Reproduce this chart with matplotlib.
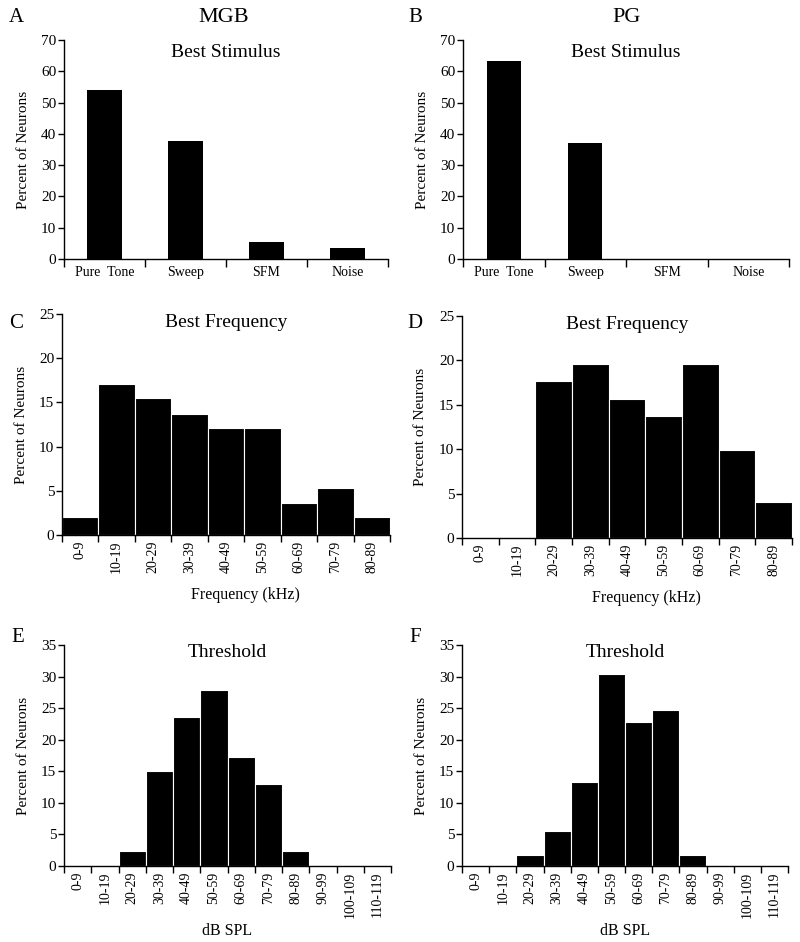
import numpy as np
import matplotlib.pyplot as plt

plt.rcParams['font.family'] = ['Liberation Serif', 'DejaVu Serif']

# data (percent of neurons)
stimuli = ['Pure  Tone', 'Sweep', 'SFM', 'Noise']
mgb_stim = [53.9, 37.6, 5.4, 3.6]
pg_stim = [63.3, 37.0, 0, 0]

freq_bins = ['0-9', '10-19', '20-29', '30-39', '40-49', '50-59', '60-69', '70-79', '80-89']
mgb_freq = [2.0, 17.1, 15.5, 13.7, 12.1, 12.1, 3.6, 5.3, 2.0]
pg_freq = [0, 0, 17.7, 19.6, 15.7, 13.7, 19.6, 9.9, 4.0]

spl_bins = ['0-9', '10-19', '20-29', '30-39', '40-49', '50-59', '60-69', '70-79',
            '80-89', '90-99', '100-109', '110-119']
mgb_thr = [0, 0, 2.3, 15.1, 23.6, 27.8, 17.3, 13.0, 2.3, 0, 0, 0]
pg_thr = [0, 0, 1.8, 5.6, 13.3, 30.4, 22.8, 24.7, 1.8, 0, 0, 0]

W, H = 800, 942


def make_axes(fig, left, right, top, bottom):
    return fig.add_axes([left / W, 1 - bottom / H, (right - left) / W, (bottom - top) / H])


def style(ax, ymax, ystep, title, title_y):
    for s in ['top', 'right']:
        ax.spines[s].set_visible(False)
    for s in ['left', 'bottom']:
        ax.spines[s].set_linewidth(1.0)
    ax.set_ylim(0, ymax)
    ax.set_yticks(np.arange(0, ymax + 1, ystep))
    ax.tick_params(axis='y', labelsize=11, length=4, width=1, pad=1.5)
    ax.set_ylabel('Percent of Neurons', fontsize=11)
    ax.yaxis.set_label_coords(-0.105, 0.5)
    ax.text(0.5, title_y, title, transform=ax.transAxes, ha='center', va='center', fontsize=14)


def stim_panel(ax, vals):
    n = len(vals)
    x = np.arange(n) + 0.5
    ax.bar(x, vals, width=0.42, color='black')
    ax.set_xlim(0, n)
    ax.set_xticks(np.arange(n + 1))
    ax.set_xticklabels([])
    ax.set_xticks(x, minor=True)
    ax.set_xticklabels(stimuli, minor=True, fontsize=10)
    ax.tick_params(axis='x', which='major', length=6, width=1)
    ax.tick_params(axis='x', which='minor', length=0, pad=5)
    style(ax, 70, 10, 'Best Stimulus', 0.945)


def hist_panel(ax, vals, labels, ymax, title, title_y, xlabel, xl_pos):
    n = len(vals)
    x = np.arange(n) + 0.5
    ax.bar(x, vals, width=1.0, color='black', edgecolor='white', linewidth=0.8)
    ax.set_xlim(0, n)
    ax.set_xticks(np.arange(n + 1))
    ax.set_xticklabels([])
    ax.set_xticks(x, minor=True)
    ax.set_xticklabels(labels, minor=True, fontsize=10, rotation=90)
    ax.tick_params(axis='x', which='major', length=5, width=1)
    ax.tick_params(axis='x', which='minor', length=0, pad=4)
    style(ax, ymax, 5, title, title_y)
    ax.set_xlabel(xlabel, fontsize=11.5)
    ax.xaxis.set_label_coords(xl_pos[0], xl_pos[1])


fig = plt.figure(figsize=(8, 9.42), dpi=100)

axA = make_axes(fig, 64, 388, 40, 259)
stim_panel(axA, mgb_stim)
axB = make_axes(fig, 463, 789, 40, 259)
stim_panel(axB, pg_stim)

axC = make_axes(fig, 62, 390, 314, 535)
hist_panel(axC, mgb_freq, freq_bins, 25, 'Best Frequency', 0.96, 'Frequency (kHz)', (0.56, -0.235))
axD = make_axes(fig, 462, 792, 316, 538)
hist_panel(axD, pg_freq, freq_bins, 25, 'Best Frequency', 0.96, 'Frequency (kHz)', (0.56, -0.235))

axE = make_axes(fig, 64, 391, 645, 866)
hist_panel(axE, mgb_thr, spl_bins, 35, 'Threshold', 0.964, 'dB SPL', (0.5, -0.26))
axF = make_axes(fig, 462, 788, 645, 866)
hist_panel(axF, pg_thr, spl_bins, 35, 'Threshold', 0.964, 'dB SPL', (0.5, -0.26))

# panel letters and column headers
for letter, x, y in [('A', 16, 17), ('B', 415, 17), ('C', 16, 323), ('D', 415, 323),
                     ('E', 18, 637), ('F', 415, 637)]:
    fig.text(x / W, 1 - y / H, letter, ha='center', va='center', fontsize=15)
fig.text(224 / W, 1 - 17 / H, 'MGB', ha='center', va='center', fontsize=16)
fig.text(627 / W, 1 - 17 / H, 'PG', ha='center', va='center', fontsize=16)

fig.savefig('out.png', dpi=100)
